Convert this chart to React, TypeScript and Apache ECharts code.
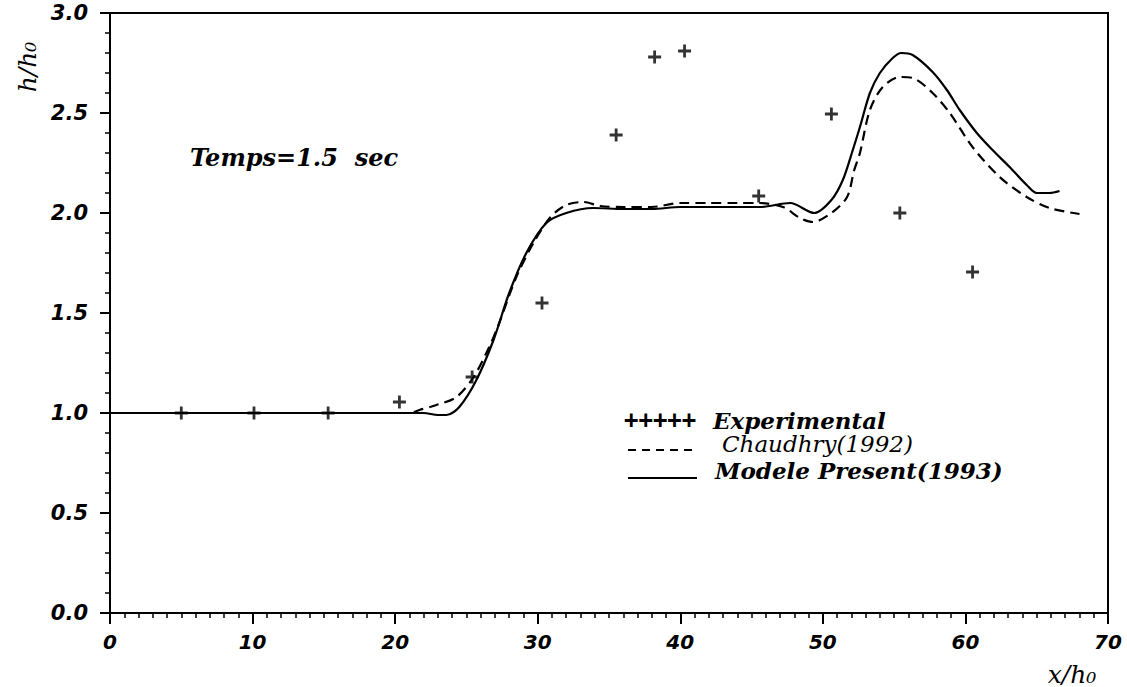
import React, { useEffect, useRef } from "react";
import * as echarts from "echarts";

const expX = [5, 10.1, 15.3, 20.3, 25.4, 30.3, 35.5, 38.2, 40.3, 45.5, 50.6, 55.4, 60.5];
const expY = [1.0, 1.0, 1.0, 1.055, 1.18, 1.55, 2.39, 2.78, 2.81, 2.085, 2.495, 2.0, 1.705];

const chauX = [0, 5, 10, 15, 20, 21, 21.7, 22.9, 24.3, 25.5, 26.6, 27.3, 28.5, 29.7, 30.9, 32.0, 33.2, 34.4, 36, 38, 40, 42, 44, 45.5, 47.2, 48.4, 49.3, 50.6, 51.7, 52.2, 52.6, 53.3, 54.2, 55.4, 56.3, 57.7, 58.9, 60.5, 62.4, 64.3, 65.9, 68.0];
const chauY = [1.0, 1.0, 1.0, 1.0, 1.0, 1.0, 1.015, 1.04, 1.08, 1.18, 1.33, 1.45, 1.68, 1.85, 1.98, 2.04, 2.055, 2.035, 2.03, 2.03, 2.05, 2.05, 2.05, 2.05, 2.03, 1.975, 1.955, 2.0, 2.08, 2.215, 2.3, 2.515, 2.63, 2.68, 2.675, 2.6, 2.5, 2.33, 2.18, 2.08, 2.025, 1.995];

const modX = [0, 5, 10, 15, 20, 22, 23, 23.6, 24.5, 25.7, 26.9, 28.0, 29.2, 30.6, 32.0, 33.9, 36, 38, 40, 42, 44, 45.6, 47.7, 49.4, 50.6, 51.4, 52.1, 52.6, 53.3, 54.0, 54.9, 55.5, 56.3, 57.7, 58.7, 59.6, 60.8, 61.9, 63.1, 64.3, 65.0, 65.9, 66.6];
const modY = [1.0, 1.0, 1.0, 1.0, 1.0, 1.0, 0.99, 0.99, 1.03, 1.165, 1.365, 1.6, 1.8, 1.95, 2.0, 2.025, 2.02, 2.02, 2.03, 2.03, 2.03, 2.03, 2.05, 2.0, 2.065, 2.165, 2.315, 2.43, 2.6, 2.7, 2.775, 2.8, 2.79, 2.705, 2.615, 2.515, 2.4, 2.315, 2.23, 2.14, 2.1, 2.1, 2.11];

const legendNames = ["Experimental", "Chaudhry(1992)", "Modele Present(1993)"];
const annotation = "Temps=1.5  sec";

const PLUS = "path://M-1.4,-6.5 L1.4,-6.5 L1.4,-1.4 L6.5,-1.4 L6.5,1.4 L1.4,1.4 L1.4,6.5 L-1.4,6.5 L-1.4,1.4 L-6.5,1.4 L-6.5,-1.4 L-1.4,-1.4 Z";

const tickFont = {
  fontFamily: "DejaVu Sans",
  fontWeight: "bold" as const,
  fontStyle: "italic" as const,
  fontSize: 20,
  color: "#000",
};
const serifBI = {
  fontFamily: "DejaVu Serif",
  fontWeight: "bold",
  fontStyle: "italic",
};

export default function App() {
  const ref = useRef<HTMLDivElement>(null);
  useEffect(() => {
    if (!ref.current) return;
    const chart = echarts.init(ref.current, null, { renderer: "svg" });
    const pair = (xs: number[], ys: number[]) => xs.map((x, i) => [x, ys[i]]);
    chart.setOption({
      animation: false,
      backgroundColor: "#fff",
      grid: {
        left: 110,
        top: 13,
        width: 998,
        height: 600,
        show: true,
        borderColor: "#000",
        borderWidth: 2,
        backgroundColor: "transparent",
      },
      xAxis: {
        type: "value",
        min: 0,
        max: 70,
        interval: 10,
        axisLine: { show: true, onZero: false, lineStyle: { color: "#000", width: 2 } },
        axisTick: { show: true, inside: false, length: 11, lineStyle: { color: "#000", width: 2 } },
        minorTick: { show: true, splitNumber: 10, length: 5, lineStyle: { color: "#000", width: 1.5 } },
        splitLine: { show: false },
        axisLabel: { ...tickFont, margin: 19 },
      },
      yAxis: {
        type: "value",
        min: 0,
        max: 3,
        interval: 0.5,
        axisLine: { show: true, onZero: false, lineStyle: { color: "#000", width: 2 } },
        axisTick: { show: true, inside: false, length: 10, lineStyle: { color: "#000", width: 2 } },
        minorTick: { show: true, splitNumber: 5, length: 5, lineStyle: { color: "#000", width: 1.5 } },
        splitLine: { show: false },
        axisLabel: { ...tickFont, fontSize: 21, margin: 22, formatter: (v: number) => v.toFixed(1) },
      },
      series: [
        {
          name: legendNames[0],
          type: "scatter",
          data: pair(expX, expY),
          symbol: PLUS,
          symbolSize: 13,
          itemStyle: { color: "#000" },
          z: 5,
        },
        {
          name: legendNames[1],
          type: "line",
          data: pair(chauX, chauY),
          showSymbol: false,
          smooth: 0.3,
          lineStyle: { color: "#000", width: 2.2, type: [10, 6] },
        },
        {
          name: legendNames[2],
          type: "line",
          data: pair(modX, modY),
          showSymbol: false,
          smooth: 0.3,
          lineStyle: { color: "#000", width: 2.2 },
        },
      ],
      graphic: [
        {
          type: "text",
          x: 27,
          y: 67,
          rotation: Math.PI / 2,
          style: {
            text: "h/h₀",
            ...serifBI,
            fontWeight: "normal",
            fontSize: 25,
            fill: "#000",
            align: "center",
            verticalAlign: "middle",
          },
        },
        {
          type: "text",
          x: 1072,
          y: 674,
          style: {
            text: "x/h₀",
            ...serifBI,
            fontWeight: "normal",
            fontSize: 25,
            fill: "#000",
            align: "center",
            verticalAlign: "middle",
          },
        },
        {
          type: "text",
          x: 190,
          y: 157,
          style: {
            text: annotation,
            ...serifBI,
            fontSize: 24,
            fill: "#000",
            align: "left",
            verticalAlign: "middle",
          },
        },
        {
          type: "text",
          x: 624,
          y: 420,
          style: {
            text: "+++++",
            fontFamily: "DejaVu Sans Mono",
            fontWeight: "bold",
            fontSize: 24,
            fill: "#000",
            align: "left",
            verticalAlign: "middle",
          },
        },
        {
          type: "text",
          x: 713,
          y: 420,
          style: {
            text: legendNames[0],
            ...serifBI,
            fontSize: 23,
            fill: "#000",
            align: "left",
            verticalAlign: "middle",
          },
        },
        {
          type: "line",
          shape: { x1: 628, y1: 450, x2: 697, y2: 450 },
          style: { stroke: "#000", lineWidth: 2, lineDash: [8, 6] },
        },
        {
          type: "text",
          x: 722,
          y: 444,
          style: {
            text: legendNames[1],
            ...serifBI,
            fontWeight: "normal",
            fontSize: 23,
            fill: "#000",
            align: "left",
            verticalAlign: "middle",
          },
        },
        {
          type: "line",
          shape: { x1: 628, y1: 478, x2: 697, y2: 478 },
          style: { stroke: "#000", lineWidth: 2 },
        },
        {
          type: "text",
          x: 715,
          y: 470,
          style: {
            text: legendNames[2],
            ...serifBI,
            fontSize: 23,
            fill: "#000",
            align: "left",
            verticalAlign: "middle",
          },
        },
      ],
    });
    return () => chart.dispose();
  }, []);
  return (
    <div
      ref={ref}
      style={{ position: "fixed", left: 0, top: 0, width: 1127, height: 687, background: "#fff" }}
    />
  );
}
